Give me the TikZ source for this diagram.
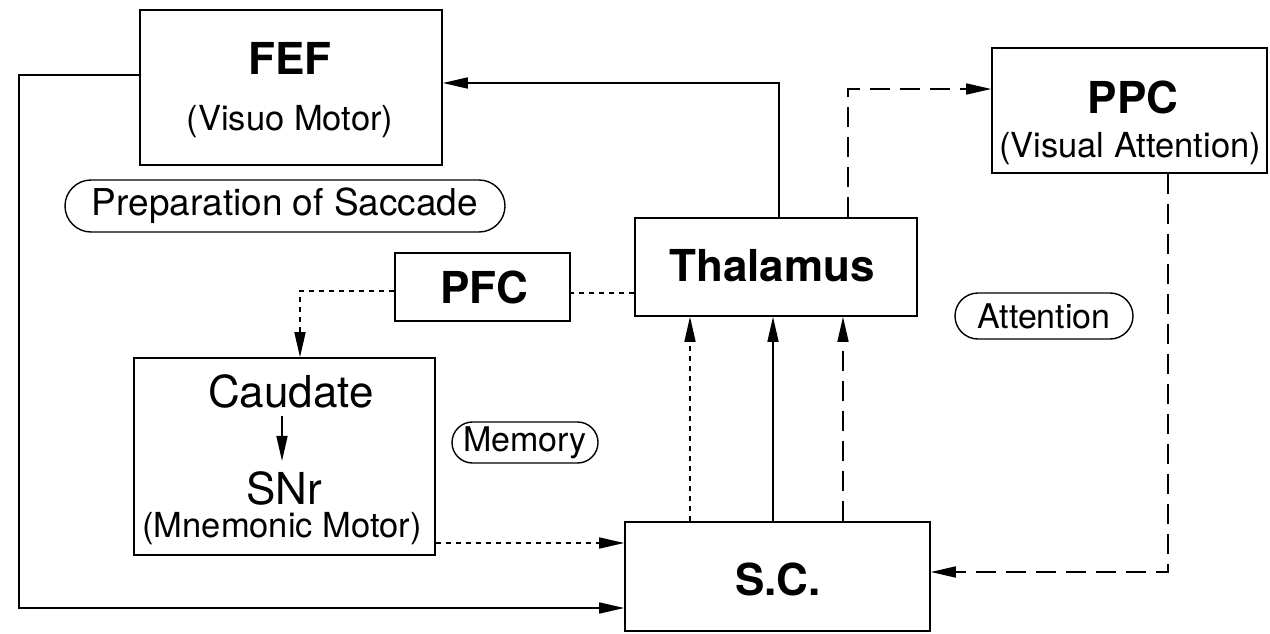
\documentclass[tikz,border=0pt]{standalone}
\usepackage{fontspec}
\setmainfont{TeX Gyre Heros}
\usetikzlibrary{arrows.meta,shapes.misc,calc}
\begin{document}
\begin{tikzpicture}[x=1pt,y=-1pt,
  lw/.style={line width=1.6pt},
  blk/.style={draw, line width=1.6pt, inner sep=0pt},
  pill/.style={draw, line width=1.4pt, rounded rectangle, inner sep=0pt, font=\fontsize{34}{40}\selectfont},
  big/.style={font=\fontsize{44}{48}\selectfont\bfseries},
  med/.style={font=\fontsize{44}{48}\selectfont},
  sml/.style={font=\fontsize{34.5}{40}\selectfont},
  arr/.style={line width=1.6pt, -{Triangle[length=25pt,width=11pt]}},
  dots/.style={dash pattern=on 5pt off 5pt},
  dashes/.style={dash pattern=on 20pt off 10pt},
  txt/.style={inner sep=0pt}
]
\useasboundingbox (0,0) rectangle (1270,634);

% boxes
\node[blk, minimum width=302pt, minimum height=155pt] (fef) at (291,87.5) {};
\node[blk, minimum width=275pt, minimum height=125pt] (ppc) at (1129.5,110.5) {};
\node[blk, minimum width=282pt, minimum height=98pt] (thal) at (776,267) {};
\node[blk, minimum width=175pt, minimum height=68pt] (pfc) at (482.5,287) {};
\node[blk, minimum width=301pt, minimum height=197pt] (cau) at (284.5,456.5) {};
\node[blk, minimum width=305pt, minimum height=109pt] (sc) at (777.5,576.5) {};

% rounded labels
\node[pill, minimum width=440pt, minimum height=52pt, font=\fontsize{37}{42}\selectfont] (prep) at (285,206) {Preparation of Saccade};
\node[pill, minimum width=146pt, minimum height=41pt] (mem) at (525,442.5) {Memory};
\node[pill, minimum width=178pt, minimum height=46pt] (att) at (1044,316) {Attention};

% texts
\node[txt,big] (feft) at (290,58) {FEF};
\node[txt,sml] (fefs) at (290,122) {(Visuo Motor)};
\node[txt,big] (ppct) at (1133,97) {PPC};
\node[txt,sml] (ppcs) at (1130,149) {(Visual Attention)};
\node[txt,big] (thalt) at (772,266) {Thalamus};
\node[txt,big] (pfct) at (484,287) {PFC};
\node[txt,big] (sct) at (778,579) {S.C.};
\node[txt,med] (caut) at (291,391) {Caudate};
\node[txt,med] (snrt) at (284,488) {SNr};
\node[txt,sml] (mnem) at (282,529) {(Mnemonic Motor)};

\draw[arr] ($(caut.south)+(-9,8)$) -- ($(snrt.north)+(-2,-10)$);

% connectors
\coordinate (c1) at (779,83);
\draw[arr] (thal.north -| c1) -- (c1) -- (c1 -| fef.east);
\coordinate (c2) at (848,89);
\draw[arr,dashes] (thal.north -| c2) -- (c2) -- (c2 -| ppc.west);
\coordinate (c3) at (1168,572);
\draw[arr,dashes] (ppc.south -| c3) -- (c3) -- (c3 -| sc.east);
\coordinate (c4) at (300,291);
\draw[arr,dots] (c4 -| pfc.west) -- (c4) -- (c4 |- cau.north);
\coordinate (c5) at (0,293);
\draw[lw,dots] (c5 -| thal.west) -- (c5 -| pfc.east);
\coordinate (c6) at (0,543);
\draw[arr,dots] (c6 -| cau.east) -- (c6 -| sc.west);
\coordinate (c7) at (19,75);
\coordinate (c8) at (19,608);
\draw[arr] (c7 -| fef.west) -- (c7) -- (c8) -- (c8 -| sc.west);
\coordinate (v1) at (690,0);
\coordinate (v2) at (773,0);
\coordinate (v3) at (843,0);
\draw[arr,dots] (sc.north -| v1) -- (thal.south -| v1);
\draw[arr] (sc.north -| v2) -- (thal.south -| v2);
\draw[arr,dashes] (sc.north -| v3) -- (thal.south -| v3);
\end{tikzpicture}
\end{document}
